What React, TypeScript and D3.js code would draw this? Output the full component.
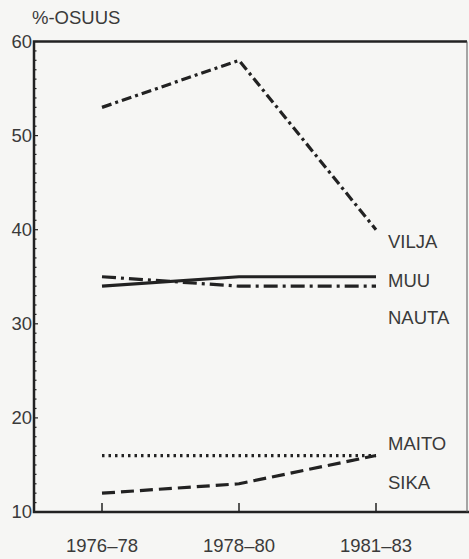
import React, { useEffect, useRef } from 'react';
import * as d3 from 'd3';

const periods = ['1976-78', '1978-80', '1981-83'];
const vilja = [53, 58, 40];
const muu = [34, 35, 35];
const nauta = [35, 34, 34];
const maito = [16, 16, 16];
const sika = [12, 13, 16];
const seriesNames = ['VILJA', 'MUU', 'NAUTA', 'MAITO', 'SIKA'];
const labelValues = [38.7, 34.6, 30.6, 17.2, 13.1];
const yTicks = [10, 20, 30, 40, 50, 60];

const App: React.FC = () => {
  const svgRef = useRef<SVGSVGElement>(null);

  useEffect(() => {
    if (!svgRef.current) return;
    const width = 469;
    const height = 559;
    const svg = d3.select(svgRef.current);
    svg.selectAll('*').remove();

    const left = 34;
    const right = 467;
    const top = 41.5;
    const bottom = 512;

    svg.append('rect').attr('width', width).attr('height', height).attr('fill', '#f6f6f4');

    const x = d3.scalePoint<string>().domain(periods).range([102, 376]);
    const y = d3.scaleLinear().domain([10, 60]).range([bottom, top]);

    const ink = '#222';
    const textInk = '#3a3a3a';
    const font = 'Liberation Sans, Arial, sans-serif';
    const fs = 18.5;

    // minor ticks
    svg.append('g')
      .selectAll('line')
      .data(d3.range(10, 61, 1))
      .join('line')
      .attr('x1', left)
      .attr('x2', (d) => (d % 10 === 0 ? left + 4 : left + 2.5))
      .attr('y1', (d) => y(d))
      .attr('y2', (d) => y(d))
      .attr('stroke', ink)
      .attr('stroke-width', 1.2);

    // frame
    svg.append('path')
      .attr('d', `M${right},${top}H${left}V${bottom}H${width}`)
      .attr('fill', 'none')
      .attr('stroke', ink)
      .attr('stroke-width', 2.5);
    svg.append('line')
      .attr('x1', right).attr('x2', right)
      .attr('y1', top).attr('y2', bottom)
      .attr('stroke', '#555').attr('stroke-width', 1);

    // y labels
    svg.append('g')
      .selectAll('text')
      .data(yTicks)
      .join('text')
      .attr('x', left - 2)
      .attr('y', (d) => y(d) + 6)
      .attr('text-anchor', 'end')
      .attr('font-family', font)
      .attr('font-size', fs)
      .attr('fill', textInk)
      .text((d) => d);

    svg.append('text')
      .attr('x', 32)
      .attr('y', 24)
      .attr('font-family', font)
      .attr('font-size', fs)
      .attr('fill', textInk)
      .text('%-OSUUS');

    // x ticks
    svg.append('g')
      .selectAll('line')
      .data(periods)
      .join('line')
      .attr('x1', (d) => x(d)!)
      .attr('x2', (d) => x(d)!)
      .attr('y1', bottom)
      .attr('y2', bottom - 9)
      .attr('stroke', ink)
      .attr('stroke-width', 1.5);

    svg.append('g')
      .selectAll('text')
      .data(periods)
      .join('text')
      .attr('x', (d) => x(d)!)
      .attr('y', 552)
      .attr('text-anchor', 'middle')
      .attr('font-family', font)
      .attr('font-size', fs)
      .attr('fill', textInk)
      .text((d) => d.replace('-', '–'));

    const line = d3.line<number>()
      .x((_, i) => x(periods[i])!)
      .y((d) => y(d));

    const series = [
      { values: vilja, dash: '10,4,3,4' },
      { values: muu, dash: null },
      { values: nauta, dash: '14,5,3,5' },
      { values: maito, dash: '2.5,4' },
      { values: sika, dash: '13,6' },
    ];

    svg.append('g')
      .selectAll('path')
      .data(series)
      .join('path')
      .attr('d', (d) => line(d.values))
      .attr('fill', 'none')
      .attr('stroke', ink)
      .attr('stroke-width', 3.2)
      .attr('stroke-dasharray', (d) => d.dash)
      .attr('stroke-linejoin', 'round');

    svg.append('g')
      .selectAll('text')
      .data(seriesNames)
      .join('text')
      .attr('x', 388)
      .attr('y', (_, i) => y(labelValues[i]) + 6)
      .attr('font-family', font)
      .attr('font-size', fs)
      .attr('fill', textInk)
      .text((d) => d);
  }, []);

  return (
    <svg
      ref={svgRef}
      width={469}
      height={559}
      style={{ position: 'absolute', left: 0, top: 0, display: 'block' }}
    />
  );
};

export default App;
